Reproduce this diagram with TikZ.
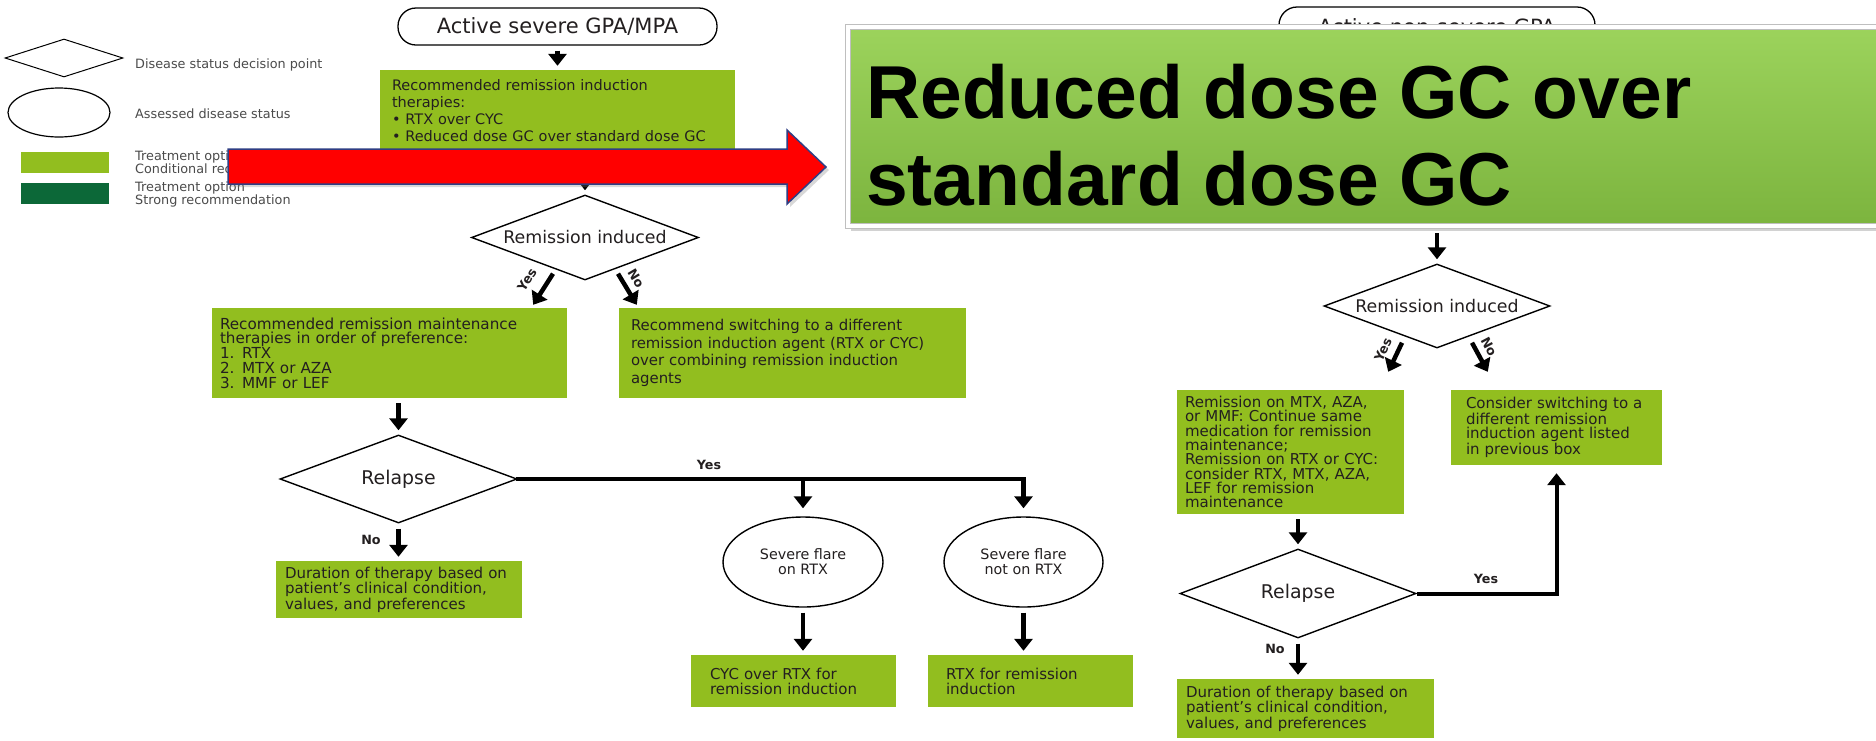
\documentclass[tikz,border=0pt]{standalone}
\usepackage{fontspec}
\setmainfont{DejaVu Sans}
\newfontfamily\calloutfont{Liberation Sans}
\usetikzlibrary{shapes.geometric,arrows.meta,calc,shadows}
\definecolor{flowgreen}{RGB}{146,190,31}
\definecolor{stronggreen}{RGB}{12,104,56}
\definecolor{textdark}{RGB}{35,31,32}
\definecolor{legendgray}{RGB}{75,75,75}
\definecolor{calloutlight}{RGB}{156,211,92}
\definecolor{calloutmid}{RGB}{141,198,78}
\definecolor{calloutdark}{RGB}{124,180,62}
\definecolor{arrowedge}{RGB}{47,62,132}
\begin{document}
\begin{tikzpicture}
[x=1pt,y=-1pt,
  boxdecorate/.style={shape=rectangle,fill=flowgreen,inner sep=0pt,align=left,text=textdark},
  diamonddecorate/.style={shape=diamond,draw,line width=1.4pt,fill=white,inner sep=0pt,aspect=2.67,text=textdark},
  ellipsedecorate/.style={shape=ellipse,draw,line width=1.4pt,inner sep=0pt,align=center,text=textdark},
  stadiumdecorate/.style={shape=rectangle,draw,line width=1.3pt,rounded corners=18pt,inner sep=0pt,text=textdark},
  arrowdecorate/.style={line width=4.5pt,-{Triangle[width=18pt,length=12pt]},shorten <=5pt,shorten >=4pt},
  linedecorate/.style={line width=4pt,line cap=rect},
  answerdecorate/.style={font=\bfseries\fontsize{12.7}{13}\selectfont,text=textdark,inner sep=0pt},
  legenddecorate/.style={anchor=west,align=left,inner sep=0pt,text=legendgray,font=\fontsize{12.8}{13}\selectfont}]
\useasboundingbox[fill=white] (0,0) rectangle (1876,740);
%% legend
\node (legdiamond) at (64,58) [diamonddecorate,line width=1pt,minimum width=118pt,minimum height=38pt] {};
\node (legdiamondtext) at (135,65) [legenddecorate] {Disease status decision point};
\node (legellipse) at (59,112.5) [ellipsedecorate,line width=1.2pt,minimum width=102pt,minimum height=49pt] {};
\node (legellipsetext) at (135,114) [legenddecorate] {Assessed disease status};
\node (legcond) at (65,162.5) [boxdecorate,minimum width=88pt,minimum height=21pt] {};
\node (legcondtext) at (135,162.5) [legenddecorate] {Treatment option\\Conditional recommendation};
\node (legstrong) at (65,193.5) [boxdecorate,fill=stronggreen,minimum width=88pt,minimum height=21pt] {};
\node (legstrongtext) at (135,194.5) [legenddecorate] {Treatment option\\Strong recommendation};
%% severe GPA/MPA
\node (topsevere) at (557.5,26.5) [stadiumdecorate,minimum width=319pt,minimum height=37pt,font=\fontsize{21}{21}\selectfont] {Active severe GPA/MPA};
\node (ind) at (557.5,111) [boxdecorate,minimum width=355pt,minimum height=82pt,text width=331pt,font=\fontsize{14.5}{17}\selectfont]
  {Recommended remission induction\\therapies:\\• RTX over CYC\\• Reduced dose GC over standard dose GC};
\node (rindsevere) at (585,237.5) [diamonddecorate,minimum width=227pt,minimum height=85pt,font=\fontsize{17.4}{18}\selectfont] {Remission induced};
\node (maint) at (389.5,353) [boxdecorate,minimum width=355pt,minimum height=90pt,text width=339pt,font=\fontsize{15.2}{14.7}\selectfont]
  {Recommended remission maintenance\\therapies in order of preference:\\1. RTX\\2. MTX or AZA\\3. MMF or LEF};
\node (switch) at (792.5,353) [boxdecorate,minimum width=347pt,minimum height=90pt,text width=323pt,font=\fontsize{14.9}{17.6}\selectfont]
  {Recommend switching to a different\\remission induction agent (RTX or CYC)\\over combining remission induction\\agents};
\node (relsevere) at (398.5,479) [diamonddecorate,minimum width=237pt,minimum height=88pt,font=\fontsize{18.9}{19}\selectfont] {Relapse};
\node (dursevere) at (399,589.5) [boxdecorate,minimum width=246pt,minimum height=57pt,text width=228pt,font=\fontsize{15}{14.5}\selectfont]
  {Duration of therapy based on\\patient’s clinical condition,\\values, and preferences};
\node (flareon) at (803,562) [ellipsedecorate,minimum width=160pt,minimum height=90pt,font=\fontsize{14.3}{15}\selectfont] {Severe flare\\on RTX};
\node (flarenot) at (1023.5,562) [ellipsedecorate,minimum width=159pt,minimum height=90pt,font=\fontsize{14.3}{15}\selectfont] {Severe flare\\not on RTX};
\node (cycover) at (793.5,681) [boxdecorate,minimum width=205pt,minimum height=52pt,text width=167pt,font=\fontsize{15}{15}\selectfont]
  {CYC over RTX for\\remission induction};
\node (rtxfor) at (1030.5,681) [boxdecorate,minimum width=205pt,minimum height=52pt,text width=169pt,font=\fontsize{15}{15}\selectfont]
  {RTX for remission\\induction};
%% non-severe GPA
\node (topnonsevere) at (1437,26.5) [stadiumdecorate,minimum width=316pt,minimum height=39pt,font=\fontsize{21}{21}\selectfont] {Active non-severe GPA};
\node (rindnon) at (1437,306) [diamonddecorate,minimum width=226pt,minimum height=84pt,font=\fontsize{17.4}{18}\selectfont] {Remission induced};
\node (remon) at (1290.5,452) [boxdecorate,minimum width=227pt,minimum height=124pt,text width=211pt,font=\fontsize{15}{14.3}\selectfont]
  {Remission on MTX, AZA,\\or MMF: Continue same\\medication for remission\\maintenance;\\Remission on RTX or CYC:\\consider RTX, MTX, AZA,\\LEF for remission\\maintenance};
\node (consider) at (1556.5,427.5) [boxdecorate,minimum width=211pt,minimum height=75pt,text width=181pt,font=\fontsize{15}{14.3}\selectfont]
  {Consider switching to a\\different remission\\induction agent listed\\in previous box};
\node (relnon) at (1298,593.5) [diamonddecorate,minimum width=236pt,minimum height=89pt,font=\fontsize{18.9}{19}\selectfont] {Relapse};
\node (durnon) at (1305.5,708.5) [boxdecorate,minimum width=257pt,minimum height=59pt,text width=239pt,font=\fontsize{15}{14.5}\selectfont]
  {Duration of therapy based on\\patient’s clinical condition,\\values, and preferences};
%% straight arrows
\foreach \startnode/\endnode/\xnode in {topsevere/ind/ind, ind/rindsevere/rindsevere,
  maint/relsevere/relsevere, relsevere/dursevere/relsevere, flareon/cycover/flareon,
  flarenot/rtxfor/flarenot, remon/relnon/relnon, relnon/durnon/relnon}
{
  \draw[arrowdecorate] (\xnode.center |- \startnode.south) -- (\xnode.center |- \endnode.north);
}
%% yes / no branches
\draw[arrowdecorate,shorten <=0pt,shorten >=0pt] ($(rindsevere.south)+(-32,-7)$) -- ($(maint.north east)+(-34,-3)$);
\draw[arrowdecorate,shorten <=0pt,shorten >=0pt] ($(rindsevere.south)+(33,-7)$) -- ($(switch.north west)+(18,-3)$);
\draw[arrowdecorate,shorten <=0pt,shorten >=0pt] ($(rindnon.south)+(-35,-6)$) -- ($(remon.north east)+(-16,-18)$);
\draw[arrowdecorate,shorten <=0pt,shorten >=0pt] ($(rindnon.south)+(35,-6)$) -- ($(consider.north west)+(37,-18)$);
\node (yessevere) at (527,280) [answerdecorate,rotate=58] {Yes};
\node (nosevere) at (636,278) [answerdecorate,rotate=-59] {No};
\node (yesnon) at (1383,350) [answerdecorate,rotate=65] {Yes};
\node (nonon) at (1489,347) [answerdecorate,rotate=-62] {No};
\draw[linedecorate] (relsevere.east) -- (flarenot.center |- relsevere.east);
\foreach \flarenode in {flareon,flarenot}
{
  \draw[arrowdecorate,shorten <=0pt,shorten >=8pt] (\flarenode.center |- relsevere.east) -- (\flarenode.north);
}
\draw[arrowdecorate,line width=4pt,shorten <=0pt,shorten >=8pt] (relnon.east) -| (consider.south);
\node (yesrelsevere) at (709,465) [answerdecorate] {Yes};
\node (norelsevere) at (371,540) [answerdecorate] {No};
\node (yesrelnon) at (1486,579) [answerdecorate] {Yes};
\node (norelnon) at (1275,649) [answerdecorate] {No};
\draw[arrowdecorate] (rindnon.north |- 0,228) -- (rindnon.north);
%% highlight arrow and callout
\draw[fill=red,draw=arrowedge,line width=1.5pt,drop shadow={shadow xshift=3pt,shadow yshift=-3pt,opacity=0.3}]
  (228,149) -- (787,149) -- (787,130) -- (826,167) -- (787,204) -- (787,184) -- (228,184) -- cycle;
\node (callout) at (1369,126.5) [shape=rectangle,draw=black!25,line width=0.8pt,double=white,double distance=3.5pt,
  top color=calloutlight,middle color=calloutmid,bottom color=calloutdark,
  drop shadow={shadow xshift=3pt,shadow yshift=-5pt,opacity=0.35},minimum width=1042pt,minimum height=199pt,inner sep=0pt] {};
\node (callouttext) at (866,64) [anchor=north west,inner sep=0pt,align=left,font=\calloutfont\bfseries\fontsize{75}{87}\selectfont]
  {Reduced dose GC over\\standard dose GC};
\end{tikzpicture}
\end{document}
